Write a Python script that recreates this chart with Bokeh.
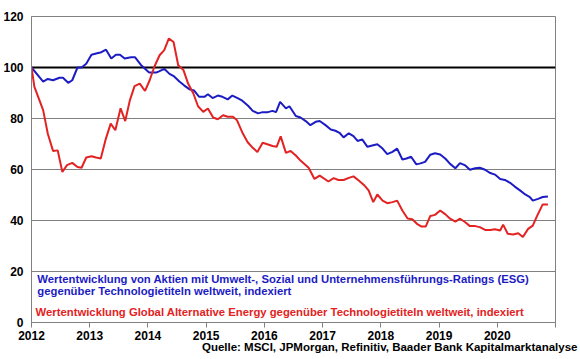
from bokeh.plotting import figure
from bokeh.models import Span, Label, FixedTicker, Title
from bokeh.embed import file_html
from bokeh.resources import INLINE

# ESG vs technology (blue)
esg_x = [2012.00, 2012.20, 2012.28, 2012.37, 2012.48, 2012.54, 2012.63, 2012.70, 2012.79, 2012.86,
         2012.94, 2013.03, 2013.11, 2013.20, 2013.28, 2013.37, 2013.45, 2013.52, 2013.60, 2013.71,
         2013.78, 2013.88, 2014.02, 2014.14, 2014.19, 2014.28, 2014.37, 2014.45, 2014.54, 2014.62,
         2014.71, 2014.79, 2014.88, 2014.97, 2015.03, 2015.11, 2015.20, 2015.28, 2015.37, 2015.45,
         2015.54, 2015.62, 2015.72, 2015.80, 2015.89, 2015.97, 2016.06, 2016.14, 2016.20, 2016.27,
         2016.37, 2016.43, 2016.54, 2016.62, 2016.71, 2016.79, 2016.88, 2016.95, 2017.05, 2017.14,
         2017.22, 2017.29, 2017.36, 2017.45, 2017.53, 2017.60, 2017.68, 2017.77, 2017.87, 2017.94,
         2018.03, 2018.11, 2018.20, 2018.28, 2018.37, 2018.44, 2018.52, 2018.61, 2018.68, 2018.76,
         2018.85, 2018.93, 2019.02, 2019.11, 2019.19, 2019.28, 2019.36, 2019.45, 2019.53, 2019.62,
         2019.70, 2019.79, 2019.88, 2019.96, 2020.05, 2020.13, 2020.22, 2020.30, 2020.39, 2020.48,
         2020.56, 2020.61, 2020.70, 2020.78, 2020.87]
esg_y = [100, 94.5, 95.5, 95, 96, 96, 94, 95, 100, 100,
         101.5, 105, 105.5, 106, 107, 103.5, 105, 105, 103.5, 104,
         104, 101, 98, 98, 98.5, 99.5, 97.5, 96.5, 94.5, 93,
         91.5, 91, 88.5, 88.5, 89.5, 88, 89, 88.5, 87.5, 89,
         88, 87, 85, 83, 82, 82.5, 82.5, 83, 82.5, 86.5,
         84, 84.8, 81, 80.4, 79, 77.4, 78.7, 79, 77.4, 75.7,
         75.2, 74.4, 72.6, 74.2, 73.1, 71.2, 71.8, 68.9, 69.5, 69.9,
         68.2, 66, 66.9, 68.2, 63.9, 64.3, 65, 62, 62.4, 63,
         65.8, 66.4, 65.9, 64.2, 62.2, 60.5, 62.5, 61.6, 59.9, 60.5,
         60.7, 59.9, 58.6, 58, 56.3, 55.9, 54.8, 53.3, 51.8, 50.2,
         49.2, 47.8, 48.5, 49.2, 49.4]

# Global Alternative Energy vs technology (red)
alt_x = [2012.00, 2012.05, 2012.20, 2012.28, 2012.37, 2012.45, 2012.53, 2012.61, 2012.70, 2012.79,
         2012.86, 2012.94, 2013.03, 2013.11, 2013.19, 2013.27, 2013.36, 2013.44, 2013.53, 2013.61,
         2013.69, 2013.77, 2013.86, 2013.95, 2014.03, 2014.11, 2014.20, 2014.28, 2014.36, 2014.44,
         2014.52, 2014.61, 2014.69, 2014.78, 2014.86, 2014.95, 2015.03, 2015.12, 2015.20, 2015.29,
         2015.37, 2015.46, 2015.53, 2015.63, 2015.71, 2015.80, 2015.88, 2015.97, 2016.05, 2016.14,
         2016.21, 2016.28, 2016.37, 2016.45, 2016.54, 2016.62, 2016.76, 2016.86, 2016.95, 2017.10,
         2017.19, 2017.27, 2017.36, 2017.45, 2017.53, 2017.62, 2017.72, 2017.79, 2017.87, 2017.94,
         2018.03, 2018.11, 2018.20, 2018.28, 2018.37, 2018.46, 2018.54, 2018.62, 2018.70, 2018.77,
         2018.85, 2018.93, 2019.02, 2019.11, 2019.19, 2019.28, 2019.36, 2019.45, 2019.53, 2019.62,
         2019.70, 2019.79, 2019.88, 2019.96, 2020.05, 2020.10, 2020.18, 2020.27, 2020.36, 2020.44,
         2020.53, 2020.61, 2020.68, 2020.78, 2020.87]
alt_y = [100, 92.4, 83.3, 74, 67.3, 67.5, 59, 61.7, 62.6, 61,
         60.7, 64.7, 65.2, 64.7, 64.3, 71.5, 78, 75.4, 84, 79,
         87.2, 92.7, 93.7, 90.8, 95, 100.3, 104.8, 106.8, 111.4, 110,
         100.9, 99, 93.7, 89.8, 84.8, 82.6, 83.9, 80.4, 79.7, 81.3,
         80.7, 80.7, 79.3, 74.1, 70.8, 68.5, 66.9, 70.5, 69.9, 69.2,
         68.9, 73, 66.5, 67.3, 65.5, 63.5, 60.7, 56.3, 57.6, 55.3,
         56.6, 55.9, 55.9, 56.7, 57.3, 55.7, 53.7, 51.8, 47.2, 50.2,
         47.8, 46.8, 47.2, 47.8, 43.9, 40.8, 40.5, 38.7, 37.6, 37.6,
         41.8, 42.2, 43.9, 42.4, 40.7, 39.6, 40.7, 39.3, 37.8, 37.8,
         37.4, 36.3, 36.3, 36.6, 36.1, 38.4, 34.8, 34.5, 35, 33.5,
         36.7, 38, 41.6, 46.3, 46.3]

x_ticks = [2012, 2013, 2014, 2015, 2016, 2017, 2018, 2019, 2020, 2021]
y_ticks = [0, 20, 40, 60, 80, 100, 120]

label_esg_1 = "Wertentwicklung von Aktien mit Umwelt-, Sozial und Unternehmensführungs-Ratings (ESG)"
label_esg_2 = "gegenüber Technologietiteln weltweit, indexiert"
label_alt = "Wertentwicklung Global Alternative Energy gegenüber Technologietiteln weltweit, indexiert"
source = "Quelle: MSCI, JPMorgan, Refinitiv, Baader Bank Kapitalmarktanalyse"

BLUE = "#1c1cc4"
RED = "#e32222"
FONT = "Liberation Sans"

p = figure(width=580, height=359, x_range=(2012, 2021), y_range=(0, 120),
           output_backend="svg", toolbar_location=None,
           min_border_left=30, min_border_top=16, min_border_right=25, min_border_bottom=37)

p.outline_line_color = "#808080"
p.xgrid.visible = False
p.ygrid.grid_line_color = "#808080"
p.ygrid.grid_line_width = 1
p.ygrid.ticker = FixedTicker(ticks=y_ticks)

p.xaxis.ticker = FixedTicker(ticks=x_ticks)
p.xaxis.major_label_overrides = {2021: ""}
p.xaxis.axis_line_color = "#808080"
p.xaxis.major_tick_line_color = "#808080"
p.xaxis.major_tick_out = 5
p.xaxis.major_tick_in = 0
p.xaxis.minor_tick_line_color = None
p.xaxis.major_label_standoff = 3

p.yaxis.ticker = FixedTicker(ticks=y_ticks)
p.yaxis.axis_line_color = "#808080"
p.yaxis.major_tick_line_color = None
p.yaxis.minor_tick_line_color = None
p.yaxis.major_tick_out = 0
p.yaxis.major_label_standoff = 8

for ax in (p.xaxis, p.yaxis):
    ax.major_label_text_font = FONT
    ax.major_label_text_font_style = "bold"
    ax.major_label_text_font_size = "12px"
    ax.major_label_text_color = "black"

p.add_layout(Span(location=100, dimension="width", line_color="black",
                  line_width=2, level="underlay"))

p.line(esg_x, esg_y, line_color=BLUE, line_width=2)
p.line(alt_x, alt_y, line_color=RED, line_width=2)

for txt, yv, col, xv in [(label_esg_1, 16.9, BLUE, 2012.10),
                         (label_esg_2, 12.2, BLUE, 2012.10),
                         (label_alt, 4.3, RED, 2012.07)]:
    p.add_layout(Label(x=xv, y=yv, text=txt, text_color=col, text_font=FONT,
                       text_font_style="bold", text_font_size="11.3px",
                       text_baseline="middle", text_align="left"))

p.add_layout(Title(text=source, align="right", text_color="black", text_font=FONT,
                   text_font_style="bold", text_font_size="11.5px",
                   standoff=-8, offset=-22), "below")

open("out.html", "w").write(file_html(p, INLINE))
